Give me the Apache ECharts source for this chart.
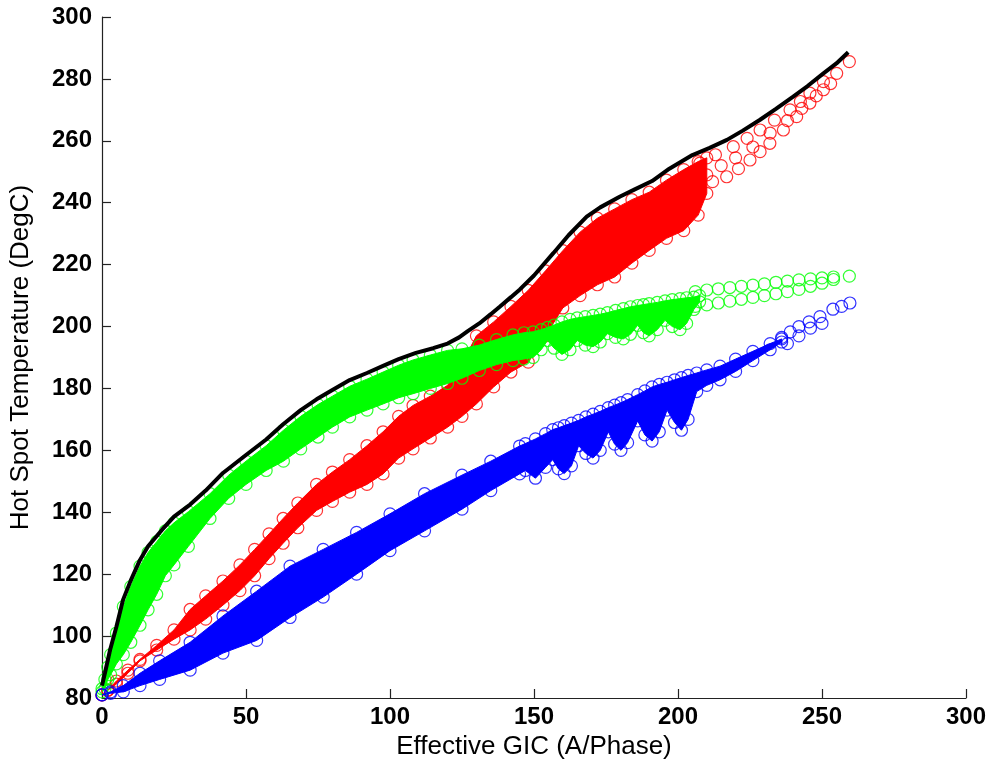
<!DOCTYPE html>
<html>
<head>
<meta charset="utf-8">
<script src="https://cdn.jsdelivr.net/npm/echarts@6/dist/echarts.min.js"></script>
<style>
html,body{margin:0;padding:0;background:#fff;}
#chart{width:992px;height:769px;}
</style>
</head>
<body>
<div id="chart"></div>
<script>
// ---- Green series (dense band: x, lower edge, upper edge) ----
var greenX  = [0,1,2,3,5,7.4,10,13.2,16,19,22,25,30,37.5,44,50,57,63,69,75,80,86,92,97.6,103,108,114,120,125,131,137,142.7,146.5,149.7,152.5,154.7,157,159.7,162.5,165,167.8,170.5,173,175.5,178.3,181,183.5,186,188,190,192.8,195.5,198,200.7,203,205.5,207.5];
var greenLo = [82,83,86,87.5,91,94,98,103.5,108.5,113.5,119.5,123,129,138,144.5,149,153.5,156.5,160.5,164.3,167.5,170.8,173,175,177,178.3,180,181.6,183.3,185.8,187.7,189,189.5,190,192.5,195.5,193,191,192.5,195.5,194,193.5,195,197.7,196.5,196,197.5,200.4,198,197,199,202,200,199,201,205.5,208];
var greenHi = [83,86,90,94,101,109.5,116,122.6,127,130.5,134,136.6,140.2,146,152,156.5,161.5,166.5,171,174.8,177.5,180.7,183,185.3,187.5,189.2,190.8,192.3,192.8,194,195.8,197.3,198,198.3,199,199.7,200.5,201.5,202.3,202.8,203.2,203.6,204,204.5,205.2,205.8,206.4,206.8,207.1,207.4,207.8,208.3,208.7,209,209.3,209.5,210];
var greenTailX = [206,210,214,218,222,226,230,234,238,242,246,250,254,259.5, 206,210,214,218,222,226,230,234,238,242,246,250,254];
var greenTailY = [211.3,211.8,212.2,212.6,213,213.4,213.8,214.3,214.7,215.1,215.4,215.7,216,216.3, 206.5,207,207.6,208.2,208.8,209.4,210,210.6,211.3,212,213,214,215.2];

// ---- Red series ----
var redX  = [0,2,5,9,13.2,19,25,30.6,36,42,47.9,53,58,62.9,68,74.5,80,86,92,97.6,103,108,114,120,125,130,136,142,148,154,160,166,172,178,184,190,196,202,207,210];
var redLo = [81,82.5,84.5,88,92,95.5,99,102,105.5,110,114.7,119.5,125,130,135,140.6,143.5,146.5,149,152.4,157.5,160.5,164,167.5,171,175,180.5,185.3,188.5,197,206,210,213.5,216,220.5,224.6,228.5,231,236,243];
var redHi = [81,82.5,85.5,89,92.5,97,102,108.6,113,117.8,123,128,133,138,143,149,153,157,161.5,166,171,174.5,177.5,181,188,197,201.5,206.5,211.7,218,224.5,230.5,235,238,241,243.4,247.3,250.7,253.3,254.5];
var redTailX = [207.6,213,219.2,224,228.5,233.5,238.9,242.5,245.8,250.5,255.1,259.5, 210,215,220,226,232,238,243,248,253, 207.6,212,216.9,221,225,228.5,231.9,236.6,241.2,245.8,250.5];
var redTailY = [252.8,255.5,258.1,260.8,263.5,266.7,270,272.7,275.4,279.1,281.8,285.6, 249,252,254.5,258,262.5,266.5,270.5,274.5,278.5, 245.2,246.8,248.4,251,253.8,256.5,259.2,263.5,267.8,272.2,276.5];

// ---- Blue series ----
var blueX  = [0,3,7.4,13.2,20,30.6,42,53.7,65.3,76.8,88.4,100,112,125,135,145,147,150.5,154,156.5,158.5,160.5,163,165.5,168,170.5,173,175.8,178,180.2,182.5,186,188.5,191,193.5,196.2,198.8,201.2,203.5,206.5,210,214.6,220,226,232,236];
var blueLo = [81,81.5,82,84,86,89,94.5,98.6,106,112.6,120,127.6,134,141,147,152.4,153.5,151,154.5,157,154,152.5,155,161.5,159,157.5,160,166,162,160,162.5,169.5,165,163,166,173,169,166.5,170,179,181,182.8,185.5,189,192.5,195];
var blueHi = [81,82,84,88,92,98,106.5,114.5,122.6,128,133.5,139.5,146,152,156.5,161.4,162.2,163.7,165.4,166.7,167.3,168,168.8,169.7,170.8,171.7,172.6,173.8,174.6,175.4,176.4,178,179.2,180.5,181.3,182,182.8,183.5,184.2,185,186,187.2,189.5,192,194.5,196];
var blueTailX = [236,239,242,245.5,249.3,253.8,256.8,259.7, 238,242,246,250];
var blueTailY = [196.5,198.3,200,201.5,203.2,205.6,206.5,207.6, 194.5,197,199.5,201];

// ---- Black envelope line ----
var blackX = [0,1,2.8,5,7.3,10,13.2,16,20.8,25,30.6,36,42,50,57,63,69,74.5,80,86,92,97.6,103,109,115,120,124,127,131,135,138.2,142,145.1,150,156.7,162,168.3,173,179.9,185,191,197,205,211,217,222.5,228.5,234,240,245,250.5,255,259.1];
var blackY = [84,88,95.5,103,111.7,118,124.6,129,134.3,138.6,142.5,147,152.7,158.5,163.5,168.5,173,176.5,179.5,182.7,185,187.3,189.5,191.5,193,194.5,196.5,198.5,201,204,206.5,209.5,212,216.5,223.7,229.5,235.5,238.5,242,244.3,247,251,255.4,257.7,260.3,263.3,266.8,270.3,274.3,277.7,281.8,285,288.6];

// ---- Axis ticks ----
var xTicks = {min:0, max:300, interval:50};
var yTicks = {min:80, max:300, interval:20};

function pairs(xs, ys){ var o=[]; for(var i=0;i<xs.length;i++) o.push([xs[i], ys[i]]); return o; }
function ringPoints(xs, lo, hi, tx, ty){
  return pairs(xs, lo).concat(pairs(xs, hi)).concat(pairs(tx, ty));
}
function band(xs, lo, hi, color, z){
  return {
    type:'custom', z:z, silent:true, clip:true,
    data:[[xs[0], lo[0]]],
    encode:{x:0, y:1},
    renderItem:function(params, api){
      var pts=[];
      for(var i=0;i<xs.length;i++) pts.push(api.coord([xs[i], hi[i]]));
      for(var j=xs.length-1;j>=0;j--) pts.push(api.coord([xs[j], lo[j]]));
      return {type:'polygon', shape:{points:pts}, style:{fill:color, stroke:color, lineWidth:1}};
    }
  };
}
function rings(data, color, z){
  return {
    type:'scatter', z:z, silent:true, symbol:'circle', symbolSize:12,
    data:data,
    itemStyle:{color:'rgba(0,0,0,0)', borderColor:color, borderWidth:1.2}
  };
}

var RED='#ff0000', GREEN='#00ff00', BLUE='#0000ff';
var chart = echarts.init(document.getElementById('chart'), null, {renderer:'canvas'});
chart.setOption({
  animation:false,
  backgroundColor:'#ffffff',
  grid:{left:102, right:26, top:17, bottom:71, containLabel:false},
  xAxis:{
    type:'value', min:xTicks.min, max:xTicks.max, interval:xTicks.interval,
    name:'Effective GIC (A/Phase)', nameLocation:'middle', nameGap:36,
    nameTextStyle:{fontFamily:'Liberation Sans', fontSize:26, color:'#000'},
    axisLine:{show:true, onZero:false, lineStyle:{color:'#222', width:1.2}},
    axisTick:{show:true, inside:true, length:9, lineStyle:{color:'#222', width:1.2}},
    axisLabel:{margin:7, fontFamily:'Liberation Sans', fontWeight:'bold', fontSize:24, color:'#000'},
    splitLine:{show:false}
  },
  yAxis:{
    type:'value', min:yTicks.min, max:yTicks.max, interval:yTicks.interval,
    name:'Hot Spot Temperature (DegC)', nameLocation:'middle', nameGap:68, nameRotate:90,
    nameTextStyle:{fontFamily:'Liberation Sans', fontSize:26, color:'#000'},
    axisLine:{show:true, onZero:false, lineStyle:{color:'#222', width:1.2}},
    axisTick:{show:true, inside:true, length:9, lineStyle:{color:'#222', width:1.2}},
    axisLabel:{margin:10, fontFamily:'Liberation Sans', fontWeight:'bold', fontSize:24, color:'#000'},
    splitLine:{show:false}
  },
  series:[
    band(redX, redLo, redHi, RED, 1),
    rings(ringPoints(redX, redLo, redHi, redTailX, redTailY), RED, 2),
    band(greenX, greenLo, greenHi, GREEN, 3),
    rings(ringPoints(greenX, greenLo, greenHi, greenTailX, greenTailY), GREEN, 4),
    band(blueX, blueLo, blueHi, BLUE, 5),
    rings(ringPoints(blueX, blueLo, blueHi, blueTailX, blueTailY), BLUE, 6),
    {
      type:'line', z:10, silent:true, symbol:'none', smooth:false,
      data:pairs(blackX, blackY),
      lineStyle:{color:'#000', width:4}
    }
  ]
});
</script>
</body>
</html>
